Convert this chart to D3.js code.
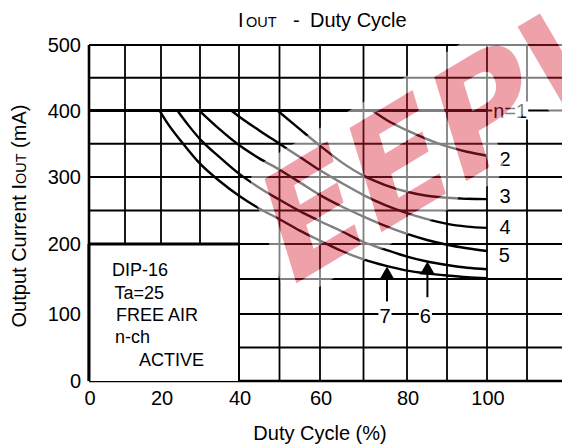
<!DOCTYPE html>
<html><head><meta charset="utf-8">
<script src="https://cdn.jsdelivr.net/npm/d3@7"></script>
<style>body{margin:0;background:#fff}svg{display:block}text{font-family:"Liberation Sans",Arial,sans-serif}</style>
</head><body><svg id="c" width="562" height="447"></svg>
<script>
// ---- data ----
const xTickLabels = [0, 20, 40, 60, 80, 100];
const yTickLabels = [0, 100, 200, 300, 400, 500];
const xGridValues = [0, 10, 20, 30, 40, 50, 60, 70, 80, 90, 100, 110, 120];
const yGridValues = [0, 50, 100, 150, 200, 250, 300, 350, 400, 450, 500];
const seriesNames = ["n=1", "2", "3", "4", "5", "6", "7"];
const n1 = [[0,400],[100,400]];
const n2 = [[72,400],[76,383],[80,370],[85,357],[90,346],[95,338],[100,332]];
const n3 = [[49.5,400],[55,372],[60,347],[65,322],[70,302],[75,288],[80,278],[85,272],[90,269],[95,267.5],[100,267]];
const n4 = [[38,400],[40,391],[45,370],[50,350],[55,330],[60,310],[65,291],[70,273],[75,258],[80,246],[85,237],[90,230],[95,226],[100,224]];
const n5 = [[29.8,400],[35,372],[40,348],[45,328],[50,311],[55,292],[60,273],[65,256],[70,241],[75,227],[80,215],[85,206],[90,199],[95,194],[100,190]];
const n6 = [[24.2,400],[27,378],[30,357],[35,330],[40,305],[45,284],[50,266],[55,249],[60,234],[65,219],[70,203],[75,192],[80,182],[85,175],[90,170],[95,166],[100,164]];
const n7 = [[19.6,400],[22,378],[25,355],[30,320],[35,294],[40,272],[45,253],[50,237],[55,220],[60,205],[65,190],[70,178],[75,169],[80,162],[85,158],[90,155],[95,152.5],[100,151]];
const endLabels = [["n=1",105.8,400],["2",104.5,328],["3",104.5,272],["4",104.5,226],["5",104.3,185]];
const arrowData = [["7",75.4,168,118,97],["6",85.1,175,124,97]];
const infoLines = ["DIP-16","Ta=25","FREE AIR","n-ch","ACTIVE"];
const watermark = "EEPW";

// ---- scales ----
const svg = d3.select("#c");
const x = d3.scaleLinear().domain([0,20,40,60,80,100,120]).range([89,161,239,320,407,487,567]);
const y = d3.scaleLinear().domain([0,100,200,300,400,500]).range([381,314,244,177,110.5,45]);

svg.append("rect").attr("width",562).attr("height",447).attr("fill","#fff");

// grid
const grid = svg.append("g").attr("stroke","#000").attr("stroke-width",1.8);
grid.selectAll("line.v").data(xGridValues).join("line").attr("class","v")
  .attr("x1",d=>x(d)).attr("x2",d=>x(d)).attr("y1",y(0)).attr("y2",y(500));
grid.selectAll("line.h").data(yGridValues).join("line").attr("class","h")
  .attr("x1",x(0)).attr("x2",x(120)).attr("y1",d=>y(d)).attr("y2",d=>y(d));
svg.append("line").attr("x1",x(0)).attr("x2",x(0)).attr("y1",y(0)).attr("y2",y(500)).attr("stroke","#000").attr("stroke-width",2.6);
svg.append("line").attr("x1",x(0)).attr("x2",x(120)).attr("y1",y(0)).attr("y2",y(0)).attr("stroke","#000").attr("stroke-width",2.4);

// info box
svg.append("rect").attr("x",x(0)+1).attr("y",y(200)).attr("width",x(40)-x(0)-1).attr("height",y(0)-y(200)).attr("fill","#fff");
const box = svg.append("g").attr("stroke","#000");
box.append("line").attr("x1",x(0)).attr("x2",x(40)+1).attr("y1",y(200)).attr("y2",y(200)).attr("stroke-width",3);
box.append("line").attr("x1",x(0)).attr("x2",x(0)).attr("y1",y(200)).attr("y2",y(0)).attr("stroke-width",3);
box.append("line").attr("x1",x(40)).attr("x2",x(40)).attr("y1",y(200)).attr("y2",y(0)).attr("stroke-width",2);
const infoPos = [[112,276],[114.5,298.5],[116,320.5],[115,343],[139,365.5]];
svg.append("g").selectAll("text").data(infoLines).join("text")
  .attr("x",(d,i)=>infoPos[i][0]).attr("y",(d,i)=>infoPos[i][1])
  .attr("font-size",18).attr("fill","#000").text(d=>d);

// curves
const line = d3.line().x(d=>x(d[0])).y(d=>y(d[1])).curve(d3.curveMonotoneX);
const series = [n1,n2,n3,n4,n5,n6,n7];
svg.append("g").selectAll("path").data(series).join("path")
  .attr("d",line).attr("fill","none").attr("stroke","#000")
  .attr("stroke-width",(d,i)=>i===0?3:2.4).attr("stroke-linejoin","round");

// labels with white backgrounds
function label(g, t, cx, cy) {
  const tx = g.append("text").attr("x",cx).attr("y",cy).attr("dy","0.36em")
    .attr("text-anchor","middle").attr("font-size",20).attr("fill","#000").text(t);
  const b = tx.node().getBBox();
  g.insert("rect","text").attr("x",b.x-1).attr("y",cy-9).attr("width",b.width+2).attr("height",18).attr("fill","#fff");
}
endLabels.forEach(d=>{ const g = svg.append("g"); label(g, d[0], x(d[1]), y(d[2])); });

// arrows
arrowData.forEach(a=>{
  const ax = x(a[1]), tip = y(a[2]), base = y(a[3]);
  svg.append("line").attr("x1",ax).attr("x2",ax).attr("y1",base).attr("y2",tip+10).attr("stroke","#000").attr("stroke-width",2);
  svg.append("path").attr("d",`M${ax},${tip} L${ax-7.5},${tip+13} L${ax+7.5},${tip+13} Z`).attr("fill","#000");
  const g = svg.append("g"); label(g, a[0], ax-2, y(a[4]));
});

// ticks
svg.append("g").selectAll("text").data(xTickLabels).join("text")
  .attr("x",d=>x(d)+1).attr("y",405).attr("text-anchor","middle").attr("font-size",20).text(d=>d);
svg.append("g").selectAll("text").data(yTickLabels).join("text")
  .attr("x",81).attr("y",d=>y(d)).attr("dy","0.36em").attr("text-anchor","end").attr("font-size",20).text(d=>d);

// titles
const tt = svg.append("text").attr("y",27).attr("font-size",20);
tt.append("tspan").attr("x",238).text("I");
tt.append("tspan").attr("x",246).attr("font-size",14.5).text("OUT");
tt.append("tspan").attr("x",293).text("-");
tt.append("tspan").attr("x",310).text("Duty Cycle");
svg.append("text").attr("x",320).attr("y",440).attr("text-anchor","middle").attr("font-size",20).text("Duty Cycle (%)");
const yt = svg.append("text").attr("transform","translate(26,216) rotate(-90)").attr("text-anchor","middle").attr("font-size",20);
yt.append("tspan").text("Output Current I");
yt.append("tspan").attr("font-size",14.5).text("OUT");
yt.append("tspan").text(" (mA)");

// watermark (scan overlay)
const wmT = "translate(285,290) rotate(-31) skewX(-14)";
const wmFont = "'DejaVu Sans',sans-serif";
const defs = svg.append("defs");
const mask = defs.append("mask").attr("id","wmMask").attr("maskUnits","userSpaceOnUse")
  .attr("x",0).attr("y",0).attr("width",562).attr("height",447);
mask.append("rect").attr("width",562).attr("height",447).attr("fill","#fff");
mask.append("text").attr("transform",wmT).style("font-family",wmFont).attr("font-size",145).attr("font-weight","bold").attr("fill","#000").text(watermark);
svg.append("g").attr("mask","url(#wmMask)").attr("opacity",0.5).append("text")
  .attr("transform",wmT).style("font-family",wmFont).attr("font-size",145).attr("font-weight","bold")
  .attr("fill","#fff").attr("stroke","#fff").attr("stroke-width",30).attr("stroke-linejoin","round").text(watermark);
svg.append("text").attr("transform",wmT).style("font-family",wmFont).attr("font-size",145).attr("font-weight","bold")
  .attr("fill","rgb(215,30,50)").attr("fill-opacity",0.42).text(watermark);
</script></body></html>
